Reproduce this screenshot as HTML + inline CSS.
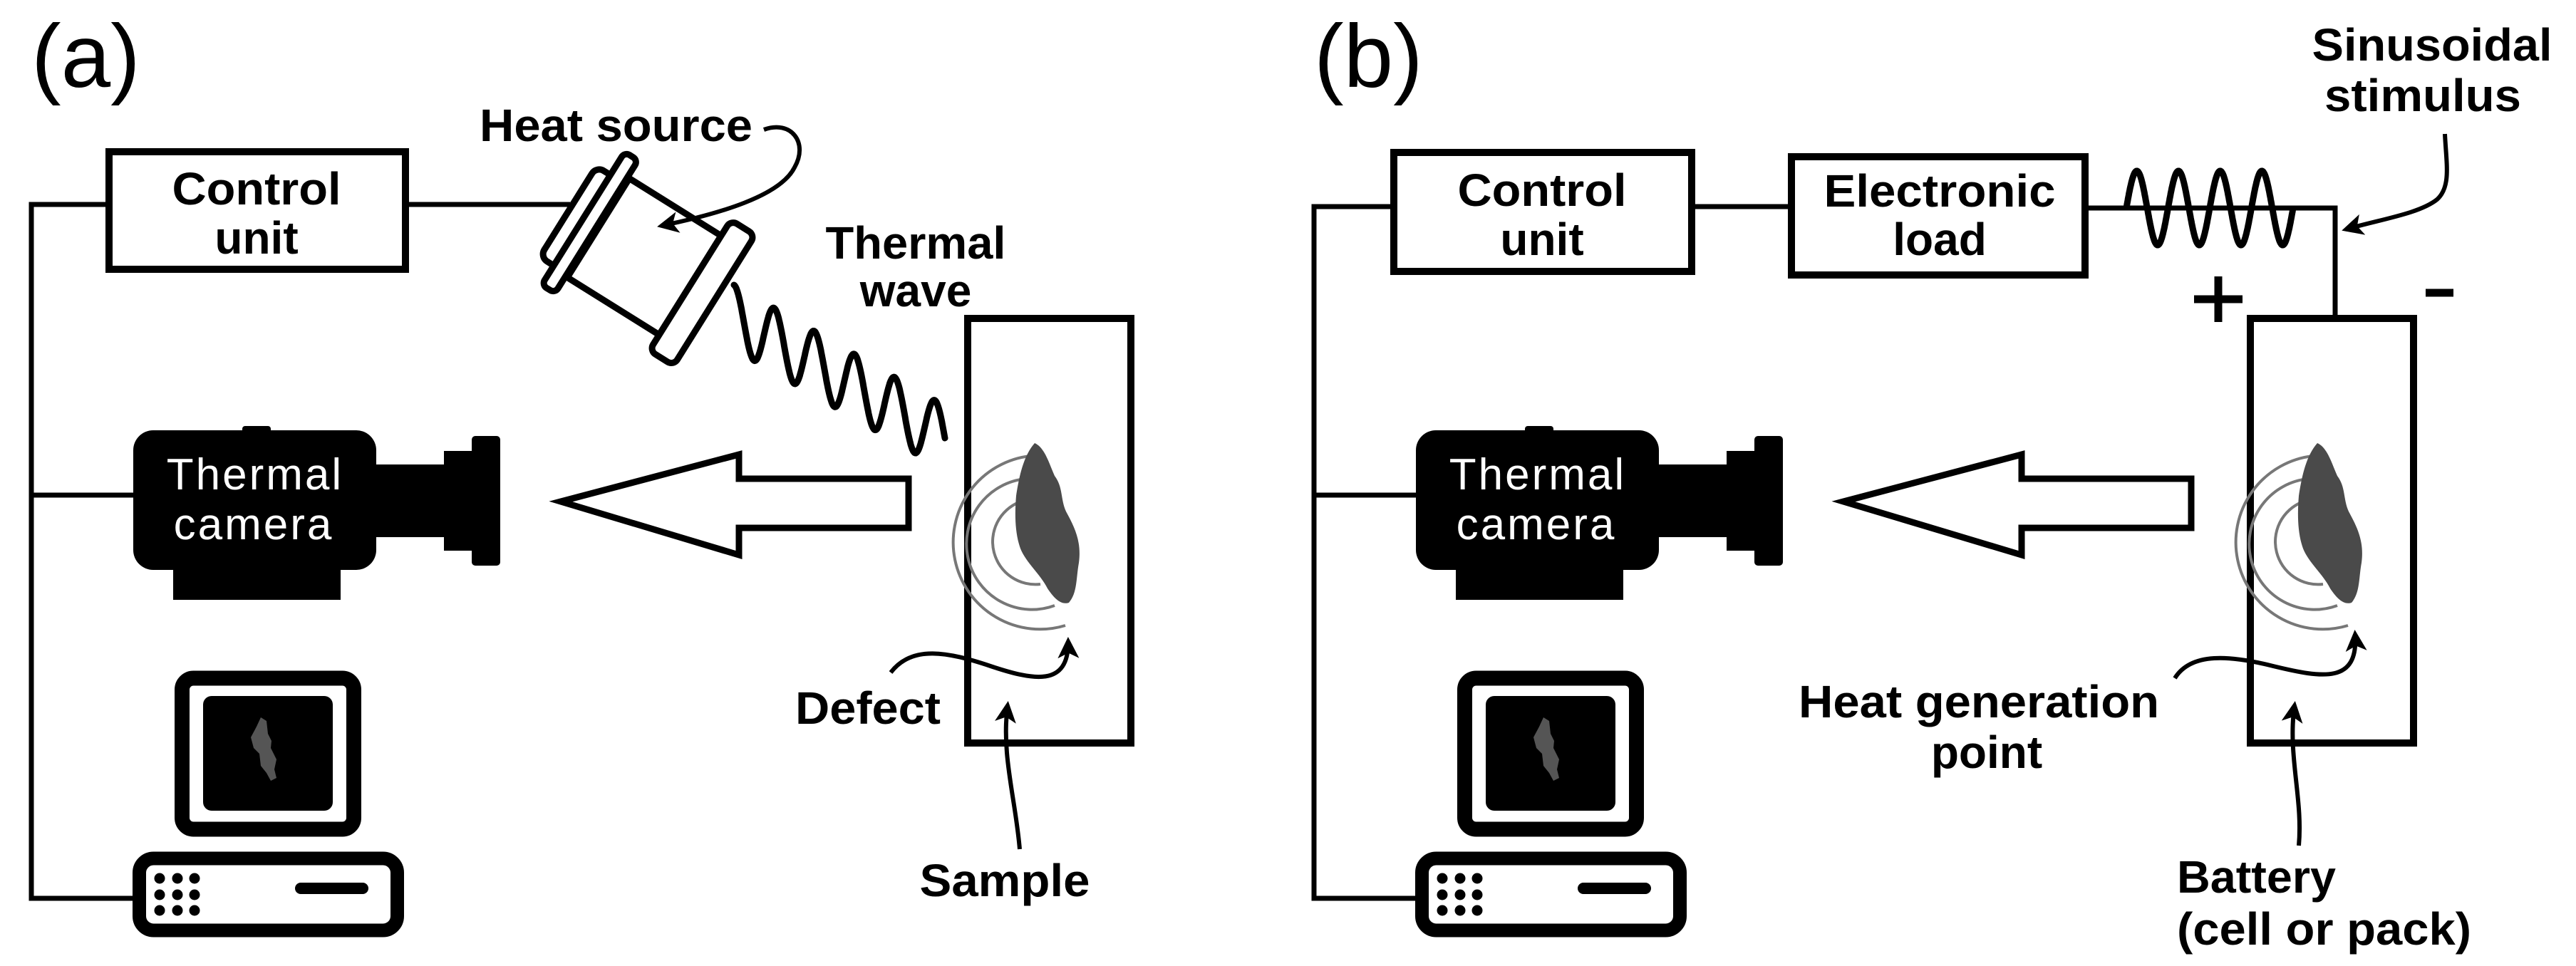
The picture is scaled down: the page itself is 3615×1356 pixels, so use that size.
<!DOCTYPE html>
<html><head><meta charset="utf-8"><style>
html,body{margin:0;padding:0;background:#fff}
svg{display:block}
text{font-family:"Liberation Sans",Arial,sans-serif}
.b{font-weight:bold;font-size:64px}
</style></head><body>
<svg width="3615" height="1356" viewBox="0 0 3615 1356" xmlns="http://www.w3.org/2000/svg">
<defs>
<marker id="ah" viewBox="0 0 10 10" refX="8" refY="5" markerWidth="5" markerHeight="5" orient="auto-start-reverse" markerUnits="strokeWidth">
<path d="M0,0 L10,5 L0,10 L2.5,5 z" fill="#000"/></marker>
</defs>

<text x="44" y="122" font-size="125">(a)</text>
<g fill="none" stroke="#000" stroke-width="7">
<polyline points="148,287 44,287 44,1261 186,1261"/>
<line x1="44" y1="695" x2="187" y2="695"/>
<line x1="574" y1="287" x2="800" y2="287"/>
</g>
<rect x="153" y="213" width="416" height="165" fill="#fff" stroke="#000" stroke-width="10"/>
<text class="b" x="360" y="287" text-anchor="middle" textLength="237" lengthAdjust="spacingAndGlyphs">Control</text>
<text class="b" x="360" y="356" text-anchor="middle">unit</text>

<g transform="translate(899,357) rotate(32)" fill="#fff" stroke="#000" stroke-width="9">
<rect x="-118" y="-72" width="30" height="150" rx="12"/>
<rect x="-70" y="-82" width="152" height="164"/>
<rect x="-95" y="-110" width="22" height="220" rx="8"/>
<line x1="-84" y1="-104" x2="-84" y2="104" stroke="#fff" stroke-width="3"/>
<rect x="82" y="-108" width="40" height="216" rx="10"/>
</g>
<text class="b" x="673" y="198" textLength="383" lengthAdjust="spacingAndGlyphs">Heat source</text>
<path d="M1072,182 C1110,168 1135,200 1115,235 C1095,275 1010,300 928,317" fill="none" stroke="#000" stroke-width="6" marker-end="url(#ah)"/>

<path id="coilA" fill="none" stroke="#000" stroke-width="9" stroke-linecap="round" d=""/>
<text class="b" x="1285" y="363" text-anchor="middle" textLength="253" lengthAdjust="spacingAndGlyphs">Thermal</text>
<text class="b" x="1285" y="430" text-anchor="middle">wave</text>

<text x="1844" y="122" font-size="125">(b)</text>
<g fill="none" stroke="#000" stroke-width="7">
<polyline points="1951,290 1844,290 1844,1261 1986,1261"/>
<line x1="1844" y1="695" x2="1987" y2="695"/>
<line x1="2374" y1="290" x2="2509" y2="290"/>
<polyline points="2926,292 3277,292 3277,445"/>
</g>
<rect x="1956" y="214" width="418" height="167" fill="#fff" stroke="#000" stroke-width="10"/>
<text class="b" x="2164" y="289" text-anchor="middle" textLength="237" lengthAdjust="spacingAndGlyphs">Control</text>
<text class="b" x="2164" y="358" text-anchor="middle">unit</text>
<rect x="2514" y="220" width="412" height="166" fill="#fff" stroke="#000" stroke-width="10"/>
<text class="b" x="2722" y="290" text-anchor="middle" textLength="325" lengthAdjust="spacingAndGlyphs">Electronic</text>
<text class="b" x="2722" y="358" text-anchor="middle">load</text>
<path id="coilB" fill="none" stroke="#000" stroke-width="9" d=""/>
<text class="b" x="3413" y="85" text-anchor="middle" textLength="337" lengthAdjust="spacingAndGlyphs">Sinusoidal</text>
<text class="b" x="3400" y="156" text-anchor="middle" textLength="276" lengthAdjust="spacingAndGlyphs">stimulus</text>
<path d="M3431,188 C3433,230 3440,262 3420,280 C3395,300 3340,308 3292,322" fill="none" stroke="#000" stroke-width="6" marker-end="url(#ah)"/>
<g stroke="#000" stroke-width="11"><line x1="3079" y1="420" x2="3147" y2="420"/><line x1="3113" y1="388" x2="3113" y2="452"/><line x1="3404" y1="411" x2="3443" y2="411"/></g>

<text class="b" x="1116" y="1016" textLength="204" lengthAdjust="spacingAndGlyphs">Defect</text>
<path d="M1250,944 C1280,905 1330,915 1390,935 C1450,955 1500,965 1499,900" fill="none" stroke="#000" stroke-width="6" marker-end="url(#ah)"/>
<text class="b" x="1410" y="1258" text-anchor="middle" textLength="239" lengthAdjust="spacingAndGlyphs">Sample</text>
<path d="M1431,1192 C1425,1120 1405,1060 1414,990" fill="none" stroke="#000" stroke-width="6" marker-end="url(#ah)"/>

<text class="b" x="2777" y="1007" text-anchor="middle" textLength="506" lengthAdjust="spacingAndGlyphs">Heat generation</text>
<text class="b" x="2788" y="1078" text-anchor="middle">point</text>
<path d="M3052,952 C3075,915 3130,920 3190,935 C3260,952 3310,960 3305,890" fill="none" stroke="#000" stroke-width="6" marker-end="url(#ah)"/>
<text class="b" x="3055" y="1253" textLength="223" lengthAdjust="spacingAndGlyphs">Battery</text>
<text class="b" x="3055" y="1326" textLength="413" lengthAdjust="spacingAndGlyphs">(cell or pack)</text>
<path d="M3226,1187 C3232,1120 3210,1060 3220,990" fill="none" stroke="#000" stroke-width="6" marker-end="url(#ah)"/>

<g id="partsA">
<rect x="187" y="604" width="341" height="196" rx="28" fill="#000"/>
<rect x="340" y="598" width="40" height="10" rx="4" fill="#000"/>
<rect x="243" y="795" width="235" height="47" fill="#000"/>
<rect x="525" y="652" width="100" height="102" fill="#000"/>
<rect x="623" y="633" width="41" height="140" fill="#000"/>
<rect x="662" y="612" width="40" height="182" rx="5" fill="#000"/>
<text x="358" y="687" text-anchor="middle" font-size="62" fill="#fff" letter-spacing="3">Thermal</text>
<text x="356" y="757" text-anchor="middle" font-size="62" fill="#fff" letter-spacing="3">camera</text>
<rect x="255.5" y="952" width="241" height="212" rx="16" fill="none" stroke="#000" stroke-width="21"/>
<rect x="285" y="977" width="182" height="161" rx="12" fill="#000"/>
<path d="M366,1007 L374,1012 L376,1030 L381,1040 L380,1050 L388,1066 L385,1080 L388,1092 L380,1096 L374,1085 L366,1075 L364,1058 L356,1050 L352,1035 L360,1020 z" fill="#555"/>
<rect x="195.5" y="1205" width="362" height="101" rx="20" fill="#fff" stroke="#000" stroke-width="19"/>
<g fill="#000"><circle cx="224" cy="1233" r="7.5"/><circle cx="249" cy="1233" r="7.5"/><circle cx="273" cy="1233" r="7.5"/><circle cx="224" cy="1256" r="7.5"/><circle cx="249" cy="1256" r="7.5"/><circle cx="273" cy="1256" r="7.5"/><circle cx="224" cy="1278" r="7.5"/><circle cx="249" cy="1278" r="7.5"/><circle cx="273" cy="1278" r="7.5"/></g>
<rect x="414" y="1239" width="103" height="16" rx="8" fill="#000"/>
<polygon points="787,704 1037,638 1037,672 1275,672 1275,741 1037,741 1037,779" fill="#fff" stroke="#000" stroke-width="9"/>
<rect x="1358" y="447" width="229" height="596" fill="none" stroke="#000" stroke-width="10"/>
<g fill="none" stroke="#777" stroke-width="4">
<path d="M1430,705 A60,60 0 0 0 1460,820"/>
<path d="M1440,672 A92,92 0 1 0 1480,850"/>
<path d="M1446,640 A122,122 0 1 0 1495,878"/>
</g>
<path d="M1452,622 C1466,628 1472,650 1480,668 C1492,684 1488,700 1496,718 C1508,740 1518,760 1514,790 C1510,812 1512,832 1500,846 C1488,850 1478,838 1470,826 C1460,806 1440,790 1432,770 C1424,748 1424,720 1426,696 C1430,670 1436,640 1452,622 z" fill="#4a4a4a"/>
</g>
<g id="partsB" transform="translate(1800,0)">
<rect x="187" y="604" width="341" height="196" rx="28" fill="#000"/>
<rect x="340" y="598" width="40" height="10" rx="4" fill="#000"/>
<rect x="243" y="795" width="235" height="47" fill="#000"/>
<rect x="525" y="652" width="100" height="102" fill="#000"/>
<rect x="623" y="633" width="41" height="140" fill="#000"/>
<rect x="662" y="612" width="40" height="182" rx="5" fill="#000"/>
<text x="358" y="687" text-anchor="middle" font-size="62" fill="#fff" letter-spacing="3">Thermal</text>
<text x="356" y="757" text-anchor="middle" font-size="62" fill="#fff" letter-spacing="3">camera</text>
<rect x="255.5" y="952" width="241" height="212" rx="16" fill="none" stroke="#000" stroke-width="21"/>
<rect x="285" y="977" width="182" height="161" rx="12" fill="#000"/>
<path d="M366,1007 L374,1012 L376,1030 L381,1040 L380,1050 L388,1066 L385,1080 L388,1092 L380,1096 L374,1085 L366,1075 L364,1058 L356,1050 L352,1035 L360,1020 z" fill="#555"/>
<rect x="195.5" y="1205" width="362" height="101" rx="20" fill="#fff" stroke="#000" stroke-width="19"/>
<g fill="#000"><circle cx="224" cy="1233" r="7.5"/><circle cx="249" cy="1233" r="7.5"/><circle cx="273" cy="1233" r="7.5"/><circle cx="224" cy="1256" r="7.5"/><circle cx="249" cy="1256" r="7.5"/><circle cx="273" cy="1256" r="7.5"/><circle cx="224" cy="1278" r="7.5"/><circle cx="249" cy="1278" r="7.5"/><circle cx="273" cy="1278" r="7.5"/></g>
<rect x="414" y="1239" width="103" height="16" rx="8" fill="#000"/>
<polygon points="787,704 1037,638 1037,672 1275,672 1275,741 1037,741 1037,779" fill="#fff" stroke="#000" stroke-width="9"/>
<rect x="1358" y="447" width="229" height="596" fill="none" stroke="#000" stroke-width="10"/>
<g fill="none" stroke="#777" stroke-width="4">
<path d="M1430,705 A60,60 0 0 0 1460,820"/>
<path d="M1440,672 A92,92 0 1 0 1480,850"/>
<path d="M1446,640 A122,122 0 1 0 1495,878"/>
</g>
<path d="M1452,622 C1466,628 1472,650 1480,668 C1492,684 1488,700 1496,718 C1508,740 1518,760 1514,790 C1510,812 1512,832 1500,846 C1488,850 1478,838 1470,826 C1460,806 1440,790 1432,770 C1424,748 1424,720 1426,696 C1430,670 1436,640 1452,622 z" fill="#4a4a4a"/>
</g>
</svg>
<script>
(function(){
 var p=[],n=5.25,A=45,x0=1030,y0=445,x1=1326,y1=615;
 for(var i=0;i<=500;i++){var t=i/500;var x=x0+(x1-x0)*t,y=y0+(y1-y0)*t-A*Math.cos(2*Math.PI*n*t);
  p.push((i?'L':'M')+x.toFixed(1)+','+y.toFixed(1));}
 document.getElementById('coilA').setAttribute('d',p.join(''));
 var q=['M2984,292'];var m=4,B=52,xa=2984,xb=3218;
 for(var j=0;j<=500;j++){var s=j/500;var xx=xa+(xb-xa)*s;var yy=292-B*Math.sin(2*Math.PI*m*s);
  q.push('L'+xx.toFixed(1)+','+yy.toFixed(1));}
 document.getElementById('coilB').setAttribute('d',q.join(''));
})();
</script>
</body></html>
